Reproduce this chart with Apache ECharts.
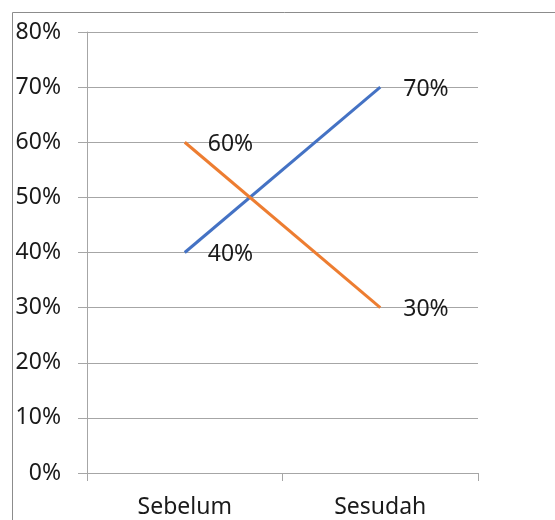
<!DOCTYPE html>
<html>
<head>
<meta charset="utf-8">
<script src="https://cdn.jsdelivr.net/npm/echarts@6/dist/echarts.min.js"></script>
<style>
  html, body { margin: 0; padding: 0; background: #fff; }
  #chart { width: 555px; height: 520px; }
</style>
</head>
<body>
<div id="chart"></div>
<script>
// Categories and percentage values for the two series
const categories = ['Sebelum', 'Sesudah'];
const seriesBlue = [40, 70];
const seriesOrange = [60, 30];
const yTicks = { min: 0, max: 80, interval: 10 };

const FONT = '"Noto Sans", sans-serif';
const TEXT = '#1a1a1a';

const chart = echarts.init(document.getElementById('chart'), null, { renderer: 'canvas' });

const labelStyle = {
  show: true,
  position: 'right',
  distance: 23,
  offset: [0, 2],
  formatter: '{c}%',
  fontFamily: FONT,
  fontSize: 23,
  color: TEXT
};

chart.setOption({
  animation: false,
  backgroundColor: '#ffffff',
  graphic: [{
    type: 'rect',
    shape: { x: 12.5, y: 12.5, width: 700, height: 700 },
    style: { fill: 'none', stroke: '#8c8c8c', lineWidth: 1 },
    silent: true
  }],
  grid: { left: 87, right: 77, top: 32, bottom: 47, containLabel: false },
  xAxis: {
    type: 'category',
    data: categories,
    boundaryGap: true,
    axisLine: { show: true, lineStyle: { color: '#a6a6a6', width: 1 } },
    axisTick: { show: true, length: 8, alignWithLabel: false, lineStyle: { color: '#a6a6a6' } },
    axisLabel: { margin: 23, fontFamily: FONT, fontSize: 23, color: TEXT },
    splitLine: { show: false }
  },
  yAxis: {
    type: 'value',
    min: yTicks.min,
    max: yTicks.max,
    interval: yTicks.interval,
    axisLine: { show: true, lineStyle: { color: '#a6a6a6', width: 1 } },
    axisTick: { show: true, length: 9, lineStyle: { color: '#a6a6a6' } },
    axisLabel: { margin: 26, formatter: '{value}%', fontFamily: FONT, fontSize: 23, color: TEXT },
    splitLine: { show: true, lineStyle: { color: '#a6a6a6', width: 1 } }
  },
  series: [
    {
      name: 'Biru',
      type: 'line',
      data: seriesBlue,
      symbol: 'circle',
      symbolSize: 0,
      showSymbol: true,
      lineStyle: { color: '#4472c4', width: 3 },
      itemStyle: { color: '#4472c4' },
      label: labelStyle
    },
    {
      name: 'Oranye',
      type: 'line',
      data: seriesOrange,
      symbol: 'circle',
      symbolSize: 0,
      showSymbol: true,
      lineStyle: { color: '#ed7d31', width: 3 },
      itemStyle: { color: '#ed7d31' },
      label: labelStyle
    }
  ]
});
</script>
</body>
</html>
